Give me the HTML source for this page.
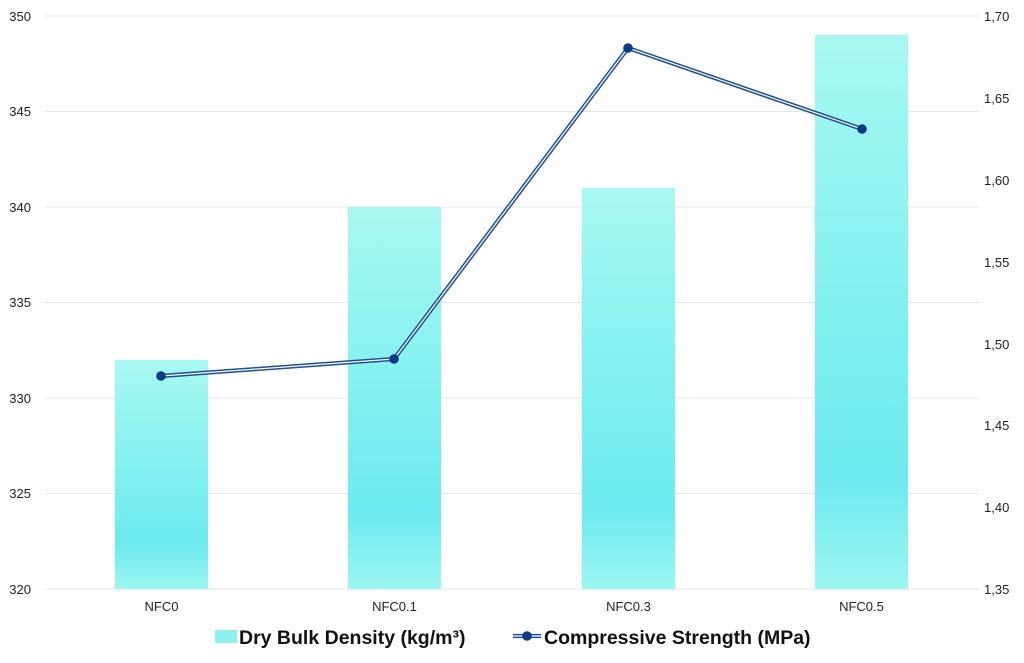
<!DOCTYPE html><html><head><style>body{margin:0;background:#fff}svg{display:block}</style></head><body>
<svg width="1024" height="663" xmlns="http://www.w3.org/2000/svg" font-family="Liberation Sans, sans-serif">
<defs><linearGradient id="g" x1="0" y1="0" x2="0" y2="1">
<stop offset="0" stop-color="#a8f8f1"/><stop offset="0.4" stop-color="#88f2f0"/><stop offset="0.8" stop-color="#6deaf0"/><stop offset="1" stop-color="#9cf6f0"/></linearGradient></defs>
<g stroke="#e3e6e8" stroke-width="1">
<line x1="45" y1="16" x2="979" y2="16"/><line x1="45" y1="111.5" x2="979" y2="111.5"/><line x1="45" y1="207" x2="979" y2="207"/><line x1="45" y1="302.5" x2="979" y2="302.5"/><line x1="45" y1="398" x2="979" y2="398"/><line x1="45" y1="493.5" x2="979" y2="493.5"/><line x1="45" y1="589" x2="979" y2="589"/>
</g>
<g font-size="13" fill="#222" text-anchor="end">
<text x="31" y="21">350</text><text x="31" y="116">345</text><text x="31" y="212">340</text><text x="31" y="307">335</text><text x="31" y="403">330</text><text x="31" y="498">325</text><text x="31" y="594">320</text>
</g>
<g font-size="13" fill="#222">
<text x="984" y="21">1,70</text><text x="984" y="103">1,65</text><text x="984" y="185">1,60</text><text x="984" y="267">1,55</text><text x="984" y="349">1,50</text><text x="984" y="430">1,45</text><text x="984" y="512">1,40</text><text x="984" y="594">1,35</text>
</g>
<g fill="url(#g)">
<rect x="115" y="360" width="93" height="229"/><rect x="348" y="207" width="93" height="382"/><rect x="582" y="188" width="93" height="401"/><rect x="815" y="35" width="93" height="554"/>
</g>
<g font-size="13" fill="#222" text-anchor="middle">
<text x="161.5" y="611">NFC0</text><text x="394.5" y="611">NFC0.1</text><text x="628.5" y="611">NFC0.3</text><text x="861.5" y="611">NFC0.5</text>
</g>
<polyline points="161,376 394,359 628,48 862,129" fill="none" stroke="#1f4f96" stroke-width="4.2"/>
<polyline points="161,376 394,359 628,48 862,129" fill="none" stroke="#fff" stroke-width="1.2"/>
<g fill="#0d3a86"><circle cx="161" cy="376" r="4.8"/><circle cx="394" cy="359" r="4.8"/><circle cx="628" cy="48" r="4.8"/><circle cx="862" cy="129" r="4.8"/></g>
<rect x="215" y="630" width="22" height="13" fill="#8ff0f0"/>
<text x="239" y="644" font-size="19.5" font-weight="bold" fill="#111">Dry Bulk Density (kg/m³)</text>
<line x1="513" y1="636" x2="541" y2="636" stroke="#1f4f96" stroke-width="4.2"/>
<line x1="513" y1="636" x2="541" y2="636" stroke="#fff" stroke-width="1.2"/>
<circle cx="527" cy="636" r="4.8" fill="#0d3a86"/>
<text x="544" y="644" font-size="19.5" font-weight="bold" fill="#111">Compressive Strength (MPa)</text>
</svg></body></html>
